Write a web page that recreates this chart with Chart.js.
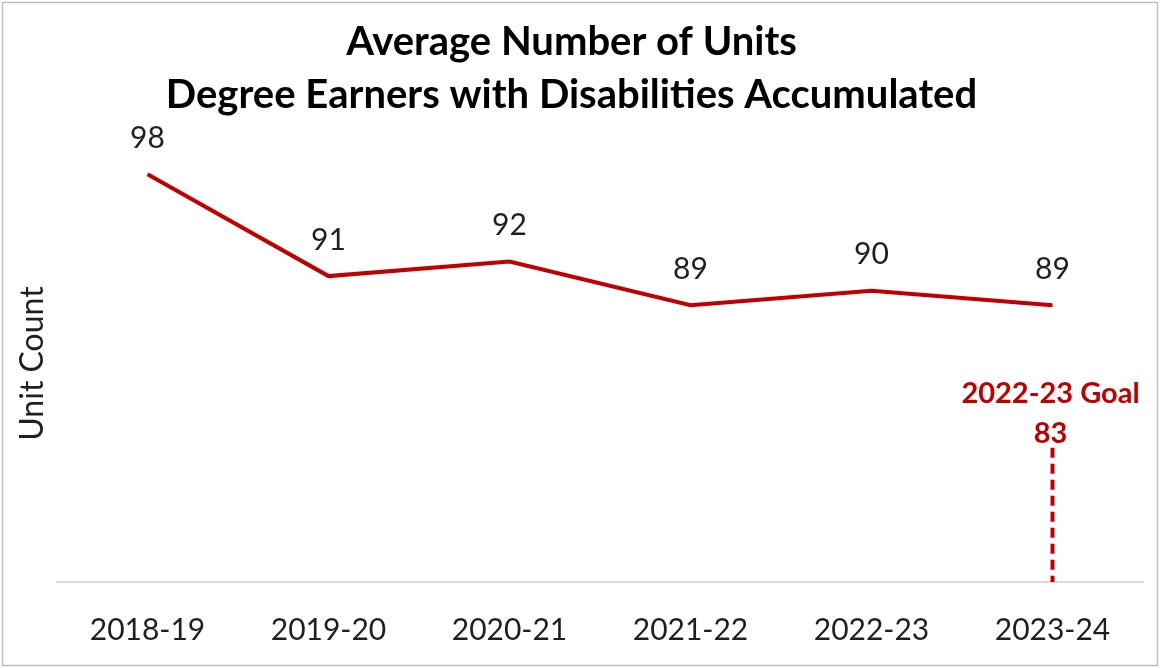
<!DOCTYPE html>
<html>
<head>
<meta charset="utf-8">
<title>Average Number of Units</title>
<script src="https://cdn.jsdelivr.net/npm/chart.js@4.4.1/dist/chart.umd.min.js"></script>
<style>
  html, body { margin: 0; padding: 0; background: #ffffff; }
  #wrap { width: 1160px; height: 668px; }
</style>
</head>
<body>
<div id="wrap"><canvas id="unitsChart" width="1160" height="668"></canvas></div>
<script>
// academic years and average units accumulated
const years = ['2018-19', '2019-20', '2020-21', '2021-22', '2022-23', '2023-24'];
const avgUnits = [98, 91, 92, 89, 90, 89];

// goal marker, shown on the last year only
const goalValues = [null, null, null, null, null, 83];
const goalLabel = '2022-23 Goal';

const titleLines = ['Average Number of Units', 'Degree Earners with Disabilities Accumulated'];
const yTitle = 'Unit Count';

const RED = '#C00000';
const TEXT = '#1f1f1f';
const FONT = 'Lato, "Open Sans", sans-serif';

// white background and thin frame
const framePlugin = {
    id: 'frame',
    beforeDraw(chart) {
        const ctx = chart.ctx;
        ctx.save();
        ctx.fillStyle = '#ffffff';
        ctx.fillRect(0, 0, chart.width, chart.height);
        ctx.strokeStyle = '#bfbfbf';
        ctx.lineWidth = 1.5;
        ctx.strokeRect(2.5, 2.5, chart.width - 5, chart.height - 5);
        ctx.restore();
    }
};

// value labels above the line and the goal marker
const labelPlugin = {
    id: 'valueLabels',
    afterDatasetsDraw(chart) {
        const ctx = chart.ctx;
        ctx.save();
        ctx.textAlign = 'center';
        ctx.textBaseline = 'middle';

        const lineMeta = chart.getDatasetMeta(0);
        ctx.font = '30px ' + FONT;
        ctx.fillStyle = TEXT;
        lineMeta.data.forEach((pt, i) => {
            ctx.fillText(String(avgUnits[i]), pt.x, pt.y - 36);
        });

        const goalMeta = chart.getDatasetMeta(1);
        goalMeta.data.forEach((pt, i) => {
            if (goalValues[i] == null) return;
            ctx.fillStyle = RED;
            ctx.font = 'bold 29px ' + FONT;
            ctx.fillText(goalLabel, pt.x - 2, pt.y + 1);
            ctx.fillText(String(goalValues[i]), pt.x - 2, pt.y + 41);

            ctx.strokeStyle = RED;
            ctx.lineWidth = 4;
            ctx.setLineDash([10, 6]);
            ctx.beginPath();
            ctx.moveTo(pt.x, pt.y + 55);
            ctx.lineTo(pt.x, chart.chartArea.bottom);
            ctx.stroke();
        });
        ctx.restore();
    }
};

new Chart(document.getElementById('unitsChart'), {
    type: 'line',
    data: {
        labels: years,
        datasets: [{
            label: 'Average Units',
            data: avgUnits,
            borderColor: RED,
            borderWidth: 4,
            pointRadius: 0,
            tension: 0,
            fill: false
        }, {
            label: goalLabel,
            data: goalValues,
            showLine: false,
            pointRadius: 0,
            borderColor: RED
        }]
    },
    options: {
        responsive: false,
        animation: false,
        devicePixelRatio: 1,
        layout: { padding: { left: 0, right: 17, top: 0, bottom: 0 } },
        plugins: {
            legend: { display: false },
            tooltip: { enabled: false },
            title: {
                display: true,
                text: titleLines,
                color: '#000000',
                font: { family: FONT, size: 40, weight: 'bold', lineHeight: 1.325 },
                padding: { top: 16, bottom: 23 }
            }
        },
        scales: {
            x: {
                offset: true,
                grid: { display: false, drawTicks: false },
                border: { display: true, color: '#d9d9d9', width: 2 },
                ticks: {
                    color: TEXT,
                    font: { family: FONT, size: 30 },
                    padding: 30,
                    maxRotation: 0
                },
                afterFit(scale) { scale.height = 86; }
            },
            y: {
                min: 70,
                max: 100,
                grid: { display: false, drawTicks: false },
                border: { display: false },
                ticks: { display: false },
                title: {
                    display: true,
                    text: yTitle,
                    color: TEXT,
                    font: { family: FONT, size: 32, lineHeight: 1.2 },
                    padding: { top: 13, bottom: 0 }
                },
                afterFit(scale) { scale.width = 57; }
            }
        }
    },
    plugins: [framePlugin, labelPlugin]
});
</script>
</body>
</html>
